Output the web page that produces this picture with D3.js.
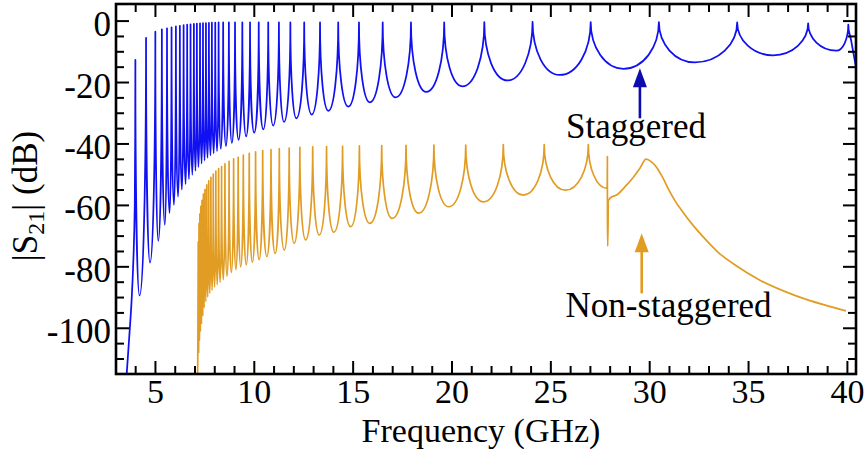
<!DOCTYPE html>
<html><head><meta charset="utf-8">
<script src="https://cdn.jsdelivr.net/npm/d3@7"></script>
<style>
html,body{margin:0;padding:0;background:#fff;}
svg text{font-family:"Liberation Serif","Times New Roman",serif;fill:#000;}
</style></head><body>
<svg id="chart" width="867" height="449"></svg>
<script>
// ---------------- data ----------------
const xDomain = [3.03, 40.46];
const yDomain = [-115.05, 5.4];
const xMajorTicks = [5, 10, 15, 20, 25, 30, 35, 40];
const xTickLabels = ["5", "10", "15", "20", "25", "30", "35", "40"];
const yMajorTicks = [0, -20, -40, -60, -80, -100];
const yTickLabels = ["0", "-20", "-40", "-60", "-80", "-100"];

// Staggered (blue): rising edge, resonance peaks, troughs between peaks, falling end
const blueStartF  = [3.55, 3.70, 3.82, 3.92, 3.98, 4.00];
const blueStartDb = [-117, -103, -91, -76, -60, -38];
const bluePeakF  = [4.01, 4.55, 5.02, 5.35, 5.61, 5.84, 6.06, 6.26, 6.45, 6.63, 6.80, 6.97, 7.12, 7.28, 7.43, 7.58, 7.73, 7.88, 8.05,
                    8.22, 8.45, 8.74, 9.05, 9.42, 9.81, 10.25, 10.73, 11.27, 11.85, 12.55, 13.35, 14.27, 15.32, 16.52, 17.95, 19.63,
                    21.66, 24.10, 27.04, 30.49, 34.45, 38.04, 40.07];
const bluePeakDb = [-12.8, -5.6, -3.6, -2.9, -2.5, -2.2, -1.9, -1.7, -1.5, -1.35, -1.2, -1.1, -1.0, -0.9, -0.85, -0.8, -0.75, -0.7, -0.65,
                    -0.6, -0.6, -0.6, -0.6, -0.6, -0.6, -0.6, -0.6, -0.6, -0.6, -0.6, -0.6, -0.6, -0.6, -0.6, -0.6, -0.6,
                    -0.5, -0.4, -0.5, -0.5, -0.6, -0.9, -1.3];
const blueTroughF  = [4.22, 4.75, 5.17, 5.50, 5.74, 5.96, 6.17, 6.36, 6.55, 6.72, 6.89, 7.05, 7.20, 7.36, 7.51, 7.66, 7.81, 7.97, 8.14,
                      8.33, 8.59, 8.89, 9.23, 9.61, 10.02, 10.48, 10.98, 11.53, 12.15, 12.93, 13.77, 14.78, 15.87, 17.17, 18.72,
                      20.55, 22.83, 25.47, 28.69, 32.31, 36.27, 39.46];
const blueTroughDb = [-89.5, -78.8, -71.7, -66.5, -62.7, -60.0, -57.3, -55.0, -53.2, -51.6, -50.2, -48.9, -47.7, -46.6, -45.6, -44.7, -43.9, -43.2, -42.5,
                      -41.7, -40.8, -39.8, -38.8, -37.7, -36.5, -35.4, -34.2, -33.0, -31.8, -30.6, -29.4, -28.0, -26.6, -25.0, -23.2,
                      -21.4, -19.5, -17.7, -15.7, -13.6, -11.3, -9.8];
const blueEndF  = [40.20, 40.50];
const blueEndDb = [-6.0, -16.5];

// Non-staggered (orange)
const orangeStartF  = [7.16];
const orangeStartDb = [-116];
const orangePeakF  = [7.19, 7.23, 7.27, 7.32, 7.38, 7.45, 7.53, 7.62, 7.72, 7.83, 7.95, 8.08, 8.22, 8.37, 8.54, 8.75,
                      8.98, 9.21, 9.47, 9.77, 10.09, 10.45, 10.87, 11.29, 11.79,
                      12.33, 12.98, 13.68, 14.49, 15.34, 16.47, 17.70, 19.11, 20.72, 22.62, 24.69, 26.92];
const orangePeakDb = [-72, -66, -63, -60.5, -58.5, -56.5, -55, -53.5, -52.2, -51, -50, -49, -48.2, -47.5, -46.6, -45.8,
                      -45.0, -44.5, -43.8, -43.2, -42.7, -42.3, -42.0, -41.7, -41.5,
                      -41.3, -41.1, -41.0, -40.9, -40.8, -40.7, -40.6, -40.5, -40.5, -40.4, -40.4, -40.4];
const orangeTroughF  = [7.21, 7.25, 7.295, 7.35, 7.415, 7.49, 7.575, 7.67, 7.775, 7.89, 8.015, 8.15, 8.295, 8.455, 8.645,
                        8.865, 9.095, 9.34, 9.62, 9.93, 10.27, 10.66, 11.08, 11.54,
                        12.04, 12.62, 13.31, 14.05, 14.90, 15.87, 17.00, 18.34, 19.86, 21.62, 23.63, 25.76];
const orangeTroughDb = [-108, -104, -101, -98.5, -96, -93.5, -91.5, -90, -88.8, -87.8, -86.8, -86, -85.2, -84.3, -83.2,
                        -82, -81, -80.2, -79.5, -78.7, -77.8, -76.8, -75.8, -74.7,
                        -72.5, -71.4, -69.8, -68.9, -67.1, -66.0, -64.4, -62.7, -60.6, -59.0, -56.8, -55.2];
const orangeSpikeF  = [27.87, 27.885, 27.90, 27.93];
const orangeSpikeDb = [-54.6, -44.3, -73.4, -58.6];
const orangeTailF  = [27.93, 28.05, 28.35, 28.86, 29.20, 29.53, 29.84, 30.10, 30.38, 30.70, 31.00, 31.30, 31.70,
                      32.20, 32.80, 33.50, 34.40, 35.60, 37.30, 39.95];
const orangeTailDb = [-58.6, -57.6, -56.8, -53.5, -51.0, -48.1, -45.1, -45.9, -47.8, -51.3, -55.2, -58.6, -62.3,
                      -66.5, -70.9, -75.5, -79.8, -84.5, -89.3, -94.5];

const annotations = [
  {text: "Staggered", color: "#0c0cb0", textF: 29.33, textDb: -38.3, tipF: 29.53, tipDb: -15.5, tailDb: -31.8},
  {text: "Non-staggered", color: "#e19c24", textF: 30.98, textDb: -96.4, tipF: 29.62, tipDb: -69.2, tailDb: -88.8}
];

// ---------------- drawing ----------------
const M = {left: 116, right: 856, top: 4, bottom: 374};
const svg = d3.select("#chart");
const x = d3.scaleLinear().domain(xDomain).range([M.left, M.right]);
const y = d3.scaleLinear().domain(yDomain).range([M.bottom, M.top]);

function zip(fs, ds) { return fs.map((f, i) => [f, ds[i]]); }
function series(...parts) {
  const pts = [];
  for (let i = 0; i < parts.length; i += 2) pts.push(...zip(parts[i], parts[i + 1]));
  return pts.sort((a, b) => a[0] - b[0]);
}

// d3 curve for resonance traces: sharp (vertical) tangents at peaks, flat tangents at troughs,
// monotone-style tangents elsewhere.
function ResonanceCurve(ctx) { this._ctx = ctx; }
ResonanceCurve.prototype = {
  areaStart() {}, areaEnd() {},
  lineStart() { this._x = []; this._y = []; },
  point(px, py) { this._x.push(+px); this._y.push(+py); },
  lineEnd() {
    const X = this._x, Y = this._y, n = X.length, c = 0.55, ctx = this._ctx;
    if (!n) return;
    ctx.moveTo(X[0], Y[0]);
    const type = [], m = [];
    for (let i = 0; i < n; i++) {
      let t = "mid";
      if (i > 0 && i < n - 1) {
        if (Y[i] < Y[i - 1] && Y[i] < Y[i + 1]) t = "peak";
        else if (Y[i] > Y[i - 1] && Y[i] > Y[i + 1]) t = "trough";
      }
      type.push(t);
      const sL = i > 0 ? (Y[i] - Y[i - 1]) / (X[i] - X[i - 1]) : null;
      const sR = i < n - 1 ? (Y[i + 1] - Y[i]) / (X[i + 1] - X[i]) : null;
      let s;
      if (sL === null) s = sR; else if (sR === null) s = sL;
      else s = (sL * sR <= 0) ? 0 : 2 * sL * sR / (sL + sR);
      m.push(s);
    }
    for (let i = 0; i < n - 1; i++) {
      const h = X[i + 1] - X[i], dy = Y[i + 1] - Y[i];
      let c1x, c1y, c2x, c2y;
      if (type[i] === "peak") { c1x = X[i]; c1y = Y[i] + c * dy; }
      else if (type[i] === "trough") { c1x = X[i] + c * h; c1y = Y[i]; }
      else { c1x = X[i] + h / 3; c1y = Y[i] + m[i] * h / 3; }
      if (type[i + 1] === "peak") { c2x = X[i + 1]; c2y = Y[i + 1] - c * dy; }
      else if (type[i + 1] === "trough") { c2x = X[i + 1] - c * h; c2y = Y[i + 1]; }
      else { c2x = X[i + 1] - h / 3; c2y = Y[i + 1] - m[i + 1] * h / 3; }
      ctx.bezierCurveTo(c1x, c1y, c2x, c2y, X[i + 1], Y[i + 1]);
    }
  }
};
const curveResonance = ctx => new ResonanceCurve(ctx);

const blue = series(blueStartF, blueStartDb, bluePeakF, bluePeakDb, blueTroughF, blueTroughDb, blueEndF, blueEndDb);
const orange = series(orangeStartF, orangeStartDb, orangePeakF, orangePeakDb, orangeTroughF, orangeTroughDb,
                      orangeSpikeF, orangeSpikeDb);
const orangeTail = zip(orangeTailF, orangeTailDb);

svg.append("defs").append("clipPath").attr("id", "plotclip")
  .append("rect").attr("x", M.left).attr("y", M.top)
  .attr("width", M.right - M.left).attr("height", M.bottom - M.top);

const lineRes = d3.line().x(d => x(d[0])).y(d => y(d[1])).curve(curveResonance);
const lineSmooth = d3.line().x(d => x(d[0])).y(d => y(d[1])).curve(d3.curveMonotoneX);
const plot = svg.append("g").attr("clip-path", "url(#plotclip)");
const ORANGE = "#e19c24", BLUE = "#1010f2";
plot.append("path").datum(orange).attr("d", lineRes)
  .attr("fill", "none").attr("stroke", ORANGE).attr("stroke-width", 1.7).attr("stroke-linejoin", "round");
plot.append("path").datum(orangeTail).attr("d", lineSmooth)
  .attr("fill", "none").attr("stroke", ORANGE).attr("stroke-width", 1.7).attr("stroke-linejoin", "round");
plot.append("path").datum(blue).attr("d", lineRes)
  .attr("fill", "none").attr("stroke", BLUE).attr("stroke-width", 1.75).attr("stroke-linejoin", "round");

// axes (ticks inward on all four sides)
const xMinor = d3.range(4, 41).filter(v => v % 5 !== 0);
const yMinor = d3.range(-110, 1, 5).filter(v => v % 20 !== 0);
function styleAxis(g) {
  g.select(".domain").remove();
  g.selectAll(".tick line").attr("stroke", "#000").attr("stroke-width", 2);
}
const MAJ = 13, MIN = 8;
svg.append("g").attr("transform", `translate(0,${M.bottom})`)
  .call(d3.axisBottom(x).tickValues(xMinor).tickSize(-MIN).tickFormat("")).call(styleAxis);
const xb = svg.append("g").attr("transform", `translate(0,${M.bottom})`)
  .call(d3.axisBottom(x).tickValues(xMajorTicks).tickSize(-MAJ).tickFormat((d, i) => xTickLabels[i])).call(styleAxis);
xb.selectAll("text").attr("y", 28.5).attr("dy", 0).style("font-size", "34px");
svg.append("g").attr("transform", `translate(0,${M.top})`)
  .call(d3.axisTop(x).tickValues(xMinor).tickSize(-MIN).tickFormat("")).call(styleAxis);
svg.append("g").attr("transform", `translate(0,${M.top})`)
  .call(d3.axisTop(x).tickValues(xMajorTicks).tickSize(-MAJ).tickFormat("")).call(styleAxis);

svg.append("g").attr("transform", `translate(${M.left},0)`)
  .call(d3.axisLeft(y).tickValues(yMinor).tickSize(-MIN).tickFormat("")).call(styleAxis);
const yl = svg.append("g").attr("transform", `translate(${M.left},0)`)
  .call(d3.axisLeft(y).tickValues(yMajorTicks).tickSize(-MAJ).tickFormat((d, i) => yTickLabels[i])).call(styleAxis);
yl.selectAll("text").attr("x", -5).attr("dy", 0).attr("y", 15).style("font-size", "35px");
svg.append("g").attr("transform", `translate(${M.right},0)`)
  .call(d3.axisRight(y).tickValues(yMinor).tickSize(-MIN).tickFormat("")).call(styleAxis);
svg.append("g").attr("transform", `translate(${M.right},0)`)
  .call(d3.axisRight(y).tickValues(yMajorTicks).tickSize(-MAJ).tickFormat("")).call(styleAxis);

// frame
svg.append("rect").attr("x", M.left).attr("y", M.top)
  .attr("width", M.right - M.left).attr("height", M.bottom - M.top)
  .attr("fill", "none").attr("stroke", "#000").attr("stroke-width", 2.6);

// axis titles
svg.append("text").attr("x", 481).attr("y", 441.5).attr("text-anchor", "middle")
  .style("font-size", "34px").text("Frequency (GHz)");
const yt = svg.append("text").attr("transform", "translate(37,196) rotate(-90)")
  .attr("text-anchor", "middle").style("font-size", "35px");
yt.append("tspan").text("|S");
yt.append("tspan").attr("dy", 7).style("font-size", "24px").text("21");
yt.append("tspan").attr("dy", -7).text("| (dB)");

// annotations with arrows
annotations.forEach(a => {
  const ax = x(a.tipF), ty = y(a.tipDb), tl = y(a.tailDb);
  const headH = 19, headW = 14;
  svg.append("line").attr("x1", ax).attr("x2", ax).attr("y1", ty + headH - 2).attr("y2", tl)
    .attr("stroke", a.color).attr("stroke-width", 2.6);
  svg.append("path")
    .attr("d", `M${ax},${ty} L${ax - headW / 2},${ty + headH} L${ax + headW / 2},${ty + headH} Z`)
    .attr("fill", a.color);
  svg.append("text").attr("x", x(a.textF)).attr("y", y(a.textDb)).attr("text-anchor", "middle")
    .style("font-size", "35px").text(a.text);
});
</script>
</body></html>
